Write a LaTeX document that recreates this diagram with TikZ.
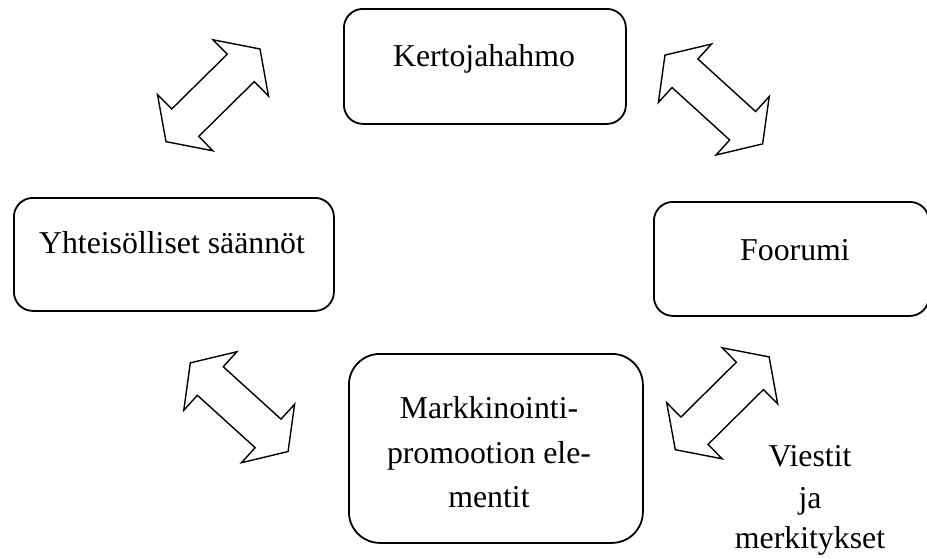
\documentclass[tikz,border=0pt]{standalone}
\usepackage{fontspec}
\setmainfont{Liberation Serif}
\begin{document}
\begin{tikzpicture}[x=1pt,y=-1pt,
  box/.style={draw, line width=1.8pt, rounded corners=19pt, anchor=north west, inner sep=0pt},
  txt/.style={font=\fontsize{31.8}{44}\selectfont, anchor=base, inner sep=0pt},
  barrow/.style={draw, line width=1.4pt, line join=miter, fill=white},
  dblarrow/.pic={\draw[barrow] (66,0) -- (39,39.5) -- (39,19.25) -- (-39,19.25) -- (-39,39.5) -- (-66,0) -- (-39,-39.5) -- (-39,-19.25) -- (39,-19.25) -- (39,-39.5) -- cycle;}]
\useasboundingbox (0,0) rectangle (927,558);
% boxes
\node[box, minimum width=282pt, minimum height=115pt] (kerto) at (343,8) {};
\node[box, minimum width=320pt, minimum height=113pt] (yht) at (13,197) {};
\node[box, minimum width=275pt, minimum height=114pt] (foor) at (653,201) {};
\node[box, minimum width=294pt, minimum height=189pt, rounded corners=31pt] (mark) at (348,353) {};
% texts
\node[txt] (t1) at (484,66) {Kertojahahmo};
\node[txt] (t2) at (172,253) {Yhteisölliset säännöt};
\node[txt] (t3) at (795,260) {Foorumi};
\node[txt] (m1) at (489,418) {Markkinointi-};
\node[txt] (m2) at (489,463) {promootion ele-};
\node[txt] (m3) at (489,507) {mentit};
\node[txt] (v1) at (810,466) {Viestit};
\node[txt] (v2) at (810,508) {ja};
\node[txt] (v3) at (810,548) {merkitykset};
% double block arrows
\pic[rotate=44.6] (a1) at (213,95.3) {dblarrow};
\pic[rotate=-42.3] (a2) at (713.8,99.5) {dblarrow};
\pic[rotate=-42.2] (a3) at (239.2,407.2) {dblarrow};
\pic[rotate=44.7] (a4) at (722.2,403.3) {dblarrow};
\end{tikzpicture}
\end{document}
